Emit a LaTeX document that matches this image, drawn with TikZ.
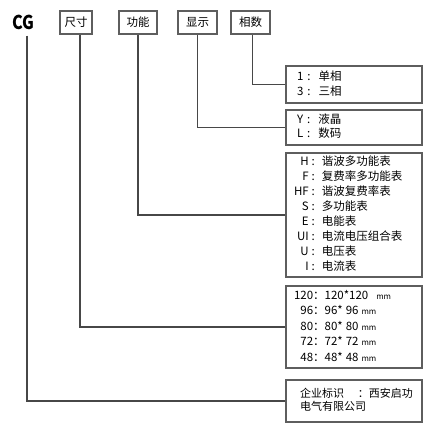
\documentclass[tikz,border=0pt]{standalone}
\usepackage{fontspec}
\setmainfont{Noto Sans CJK SC}
\usepackage{xcolor}
\usepackage{array}
\usetikzlibrary{positioning}

\definecolor{linegray}{HTML}{474747}
\definecolor{boxgray}{HTML}{5E5E5E}

\begin{document}
\begin{tikzpicture}[x=1pt, y=-1pt,
        codebox/.style={draw=boxgray, line width=1.3pt, minimum width=#1, minimum height=23pt, inner sep=0pt, font=\fontsize{11.5}{14}\selectfont},
        listbox/.style={draw=boxgray, line width=1.3pt, minimum height=#1, text width=120pt, inner xsep=8pt, inner ysep=0pt, align=left, font=\fontsize{11.5}{15}\selectfont},
        link/.style={draw=linegray, line width=1.3pt, -}
    ]
    \useasboundingbox (0,0) rectangle (434,429);

    % Define code parts along the top
    \node[font=\fontsize{19}{19}\selectfont\bfseries, inner sep=0pt] (cg) at (23,22) {\scalebox{0.85}[1]{CG}};
    \node[codebox=32pt] (sizeTag) at (76,22.5) {尺寸};
    \node[codebox=38pt] (funcTag) at (138,22.5) {功能};
    \node[codebox=39pt] (dispTag) at (197.5,22.5) {显示};
    \node[codebox=39pt] (phaseTag) at (250.5,22.5) {相数};

    % Define option lists on the right
    \node[listbox=37pt] (phaseList) at (354,84.5) {\begin{tabular}{@{\hspace{3pt}}r@{\hspace{4pt}:\hspace{8pt}}l@{}}
        1 & 单相\\
        3 & 三相
    \end{tabular}};
    \node[listbox=35pt, font=\fontsize{11.5}{14}\selectfont] (dispList) at (354,127.5) {\begin{tabular}{@{\hspace{3pt}}r@{\hspace{4pt}:\hspace{8pt}}l@{}}
        Y & 液晶\\
        L & 数码
    \end{tabular}};
    \node[listbox=124pt] (funcList) at (354,215) {\begin{tabular}{@{}r@{\hspace{3pt}:\hspace{7pt}}l@{}}
        H & 谐波多功能表\\
        F & 复费率多功能表\\
        HF & 谐波复费率表\\
        S & 多功能表\\
        E & 电能表\\
        UI & 电流电压组合表\\
        U & 电压表\\
        I & 电流表
    \end{tabular}};
    \node[listbox=82pt, font=\fontsize{11.5}{15.5}\selectfont] (sizeList) at (354,327) {\begin{tabular}{@{}r@{：}l@{}}
        120 & 120*120\hspace{8pt}{\fontsize{8}{8}\selectfont mm}\\
        96 & 96*\hspace{3pt}96\hspace{3pt}{\fontsize{8}{8}\selectfont mm}\\
        80 & 80*\hspace{3pt}80\hspace{3pt}{\fontsize{8}{8}\selectfont mm}\\
        72 & 72*\hspace{3pt}72\hspace{3pt}{\fontsize{8}{8}\selectfont mm}\\
        48 & 48*\hspace{3pt}48\hspace{3pt}{\fontsize{8}{8}\selectfont mm}
    \end{tabular}};
    \node[listbox=42pt, font=\fontsize{11}{13}\selectfont] (makerList) at (354,401) {\begin{tabular}{@{\hspace{6pt}}l@{}}
        企业标识\hspace{14pt}：西安启功\\
        电气有限公司
    \end{tabular}};

    % Connect each code part to its list
    \draw[link] ([xshift=2pt]phaseTag.south) |- (phaseList.west);
    \draw[link] (dispTag.south) |- (dispList.west);
    \draw[link] (funcTag.south) |- (funcList.west);
    \draw[link] ([xshift=4pt]sizeTag.south) |- (sizeList.west);
    \draw[link, shorten <=6pt] ([xshift=4pt]cg.south) |- (makerList.west);

\end{tikzpicture}
\end{document}
